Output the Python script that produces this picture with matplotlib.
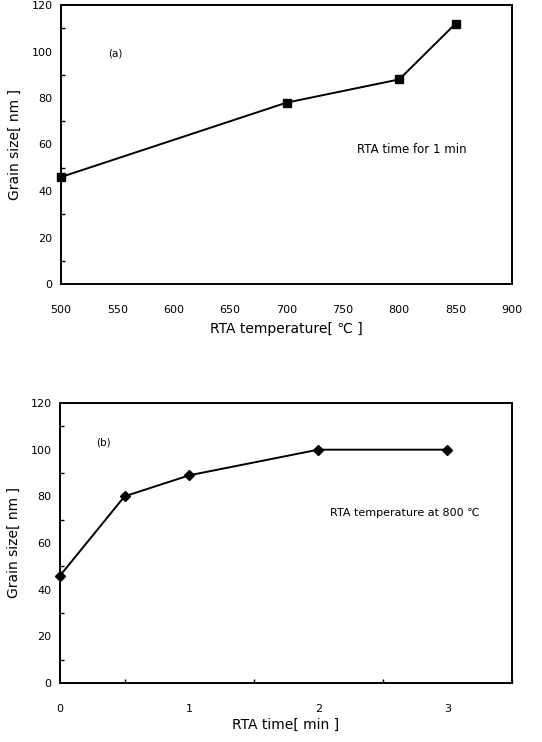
import numpy as np
import matplotlib.pyplot as plt
from matplotlib.ticker import MultipleLocator

# (a) grain size vs RTA temperature, 1 min
temp_a = [500, 700, 800, 850]
grain_a = [46, 78, 88, 112]

# (b) grain size vs RTA time, 800 C
time_b = [0, 0.5, 1, 2, 3]
grain_b = [46, 80, 89, 100, 100]

plt.rcParams['font.family'] = ['DejaVu Sans']

W, H = 542, 742
fig = plt.figure(figsize=(W / 100, H / 100), dpi=100)

ax1 = fig.add_axes([61 / W, 1 - 284 / H, (512 - 61) / W, (284 - 5) / H])
ax2 = fig.add_axes([60 / W, 1 - 683 / H, (512 - 60) / W, (683 - 403) / H])

for ax in (ax1, ax2):
    for s in ax.spines.values():
        s.set_linewidth(1.4)
    ax.tick_params(which='both', direction='in', labelsize=8, width=1)
    ax.tick_params(which='major', length=0)
    ax.tick_params(which='minor', length=3)
    ax.tick_params(axis='x', pad=15)
    ax.tick_params(axis='y', pad=6)
    ax.set_ylim(0, 120)
    ax.yaxis.set_major_locator(MultipleLocator(20))
    ax.yaxis.set_minor_locator(MultipleLocator(10))
    ax.set_ylabel('Grain size[ nm ]', fontsize=10, labelpad=7)

ax1.plot(temp_a, grain_a, color='black', lw=1.4, marker='s', ms=6, clip_on=False)
ax1.set_xlim(500, 900)
ax1.xaxis.set_major_locator(MultipleLocator(50))
ax1.xaxis.set_minor_locator(MultipleLocator(50))
ax1.set_xlabel('RTA temperature[ ℃ ]', fontsize=10, labelpad=5)
ax1.text(548, 99, '(a)', fontsize=7.5, ha='center', va='center')
ax1.text(811, 58, 'RTA time for 1 min', fontsize=8.5, ha='center', va='center')

ax2.plot(time_b, grain_b, color='black', lw=1.4, marker='D', ms=5, clip_on=False)
ax2.set_xlim(0, 3.5)
ax2.set_xticks([0, 1, 2, 3])
ax2.xaxis.set_minor_locator(MultipleLocator(0.5))
ax2.set_xlabel('RTA time[ min ]', fontsize=10, labelpad=3)
ax2.text(0.34, 103, '(b)', fontsize=7.5, ha='center', va='center')
ax2.text(2.67, 73, 'RTA temperature at 800 ℃', fontsize=8, ha='center', va='center')

fig.savefig('out.png', dpi=100)
